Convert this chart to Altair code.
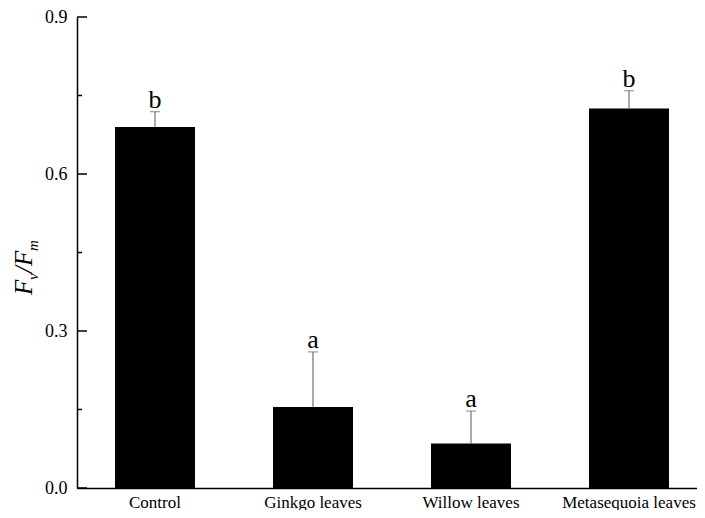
import altair as alt
import pandas as pd

categories = ["Control", "Ginkgo leaves", "Willow leaves", "Metasequoia leaves"]
means = [0.690, 0.155, 0.085, 0.725]
errors = [0.029, 0.105, 0.062, 0.034]
letters = ["b", "a", "a", "b"]
y_ticks = [0.0, 0.3, 0.6, 0.9]
y_minor = [0.15, 0.45, 0.75]

df = pd.DataFrame({"cat": categories, "mean": means, "err": errors, "letter": letters})
df["upper"] = df["mean"] + df["err"]

FONT = "Liberation Serif"

xscale = alt.Scale(paddingInner=0.4937, paddingOuter=0.2405, range=[0, 630])
x_main = alt.X("cat:N", sort=categories, title=None, scale=xscale,
               axis=alt.Axis(ticks=False, tickSize=0, labelAngle=0, labelFont=FONT,
                             labelFontSize=17, labelColor="black", labelPadding=6,
                             domainColor="black", domainWidth=1.5))
x_plain = alt.X("cat:N", sort=categories, title=None, scale=xscale)
yscale = alt.Scale(domain=[0, 0.9], nice=False, zero=True)
y_main = alt.Y("mean:Q", scale=yscale, title=None,
               axis=alt.Axis(values=y_ticks, format=".1f", ticks=False, tickSize=0,
                             labelFont=FONT, labelFontSize=18, labelColor="black",
                             labelPadding=10, domainColor="black", domainWidth=1.5,
                             grid=False))

base = alt.Chart(df)

bars = base.mark_bar(color="black").encode(x=x_main, y=y_main)

err_rule = base.mark_rule(color="#555555", strokeWidth=1).encode(
    x=x_plain, y=alt.Y("mean:Q", scale=yscale), y2="upper:Q")

caps = base.mark_tick(color="#555555", thickness=1, size=10).encode(
    x=x_plain, y=alt.Y("upper:Q", scale=yscale))

labels = base.mark_text(font=FONT, fontSize=26, baseline="alphabetic", dy=-4,
                        color="black").encode(
    x=x_plain, y=alt.Y("upper:Q", scale=yscale), text="letter:N")

major_df = pd.DataFrame({"v": y_ticks})
minor_df = pd.DataFrame({"v": y_minor})

major_ticks = alt.Chart(major_df).mark_rule(color="black", strokeWidth=1.5).encode(
    y=alt.Y("v:Q", scale=yscale), x=alt.value(0), x2=alt.value(10))
minor_ticks = alt.Chart(minor_df).mark_rule(color="black", strokeWidth=1.5).encode(
    y=alt.Y("v:Q", scale=yscale), x=alt.value(0), x2=alt.value(5))

one = pd.DataFrame({"k": [0]})

def piece(txt, size, xv, yv):
    return alt.Chart(one).mark_text(text=txt, font=FONT, fontSize=size, fontStyle="italic",
                                    angle=270, align="left", baseline="alphabetic",
                                    color="black").encode(x=alt.value(xv), y=alt.value(yv))

title_parts = [
    piece("F", 25, -45, 278),
    piece("v", 15, -39, 263),
    piece("/", 25, -45, 256),
    piece("F", 25, -45, 249),
    piece("m", 15, -39, 234),
]

chart = alt.layer(bars, err_rule, caps, labels, major_ticks, minor_ticks, *title_parts).properties(
    width=620, height=471,
    autosize=alt.AutoSizeParams(type="none"),
    padding={"left": 69, "top": 9, "right": 0, "bottom": 22},
).configure_view(stroke=None)

chart.save("out.html", embed_options={"renderer": "svg", "actions": False})
